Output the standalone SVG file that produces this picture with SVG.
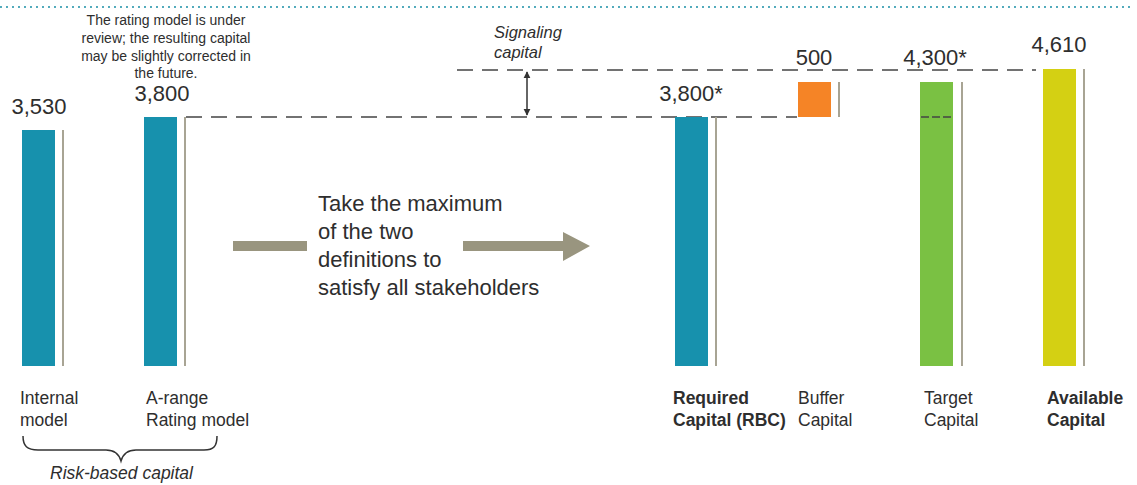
<svg xmlns="http://www.w3.org/2000/svg" width="1137" height="485" viewBox="0 0 1137 485">
<style>
text{font-family:"Liberation Sans",Arial,sans-serif;fill:#2e2e2e}
.val{font-size:22px}
.lbl{font-size:17.5px}
.b{font-weight:bold}
.it{font-style:italic}
.guide{stroke:#a8a494;stroke-width:2;fill:none}
.dash{stroke:#444;stroke-width:1.3;stroke-dasharray:16 9;fill:none}
</style>
<defs>
<marker id="ah" viewBox="0 0 10 10" refX="9" refY="5" markerWidth="7" markerHeight="8" orient="auto-start-reverse" markerUnits="userSpaceOnUse">
<path d="M0,0 L10,5 L0,10 z" fill="#333"/>
</marker>
</defs>
<rect width="1137" height="485" fill="#fff"/>
<line x1="1" y1="7" x2="1134" y2="7" stroke="#1a8fa6" stroke-width="2" stroke-linecap="round" stroke-dasharray="0 6"/>

<g id="note">
<text x="166" y="25" font-size="14" text-anchor="middle">The rating model is under</text>
<text x="166" y="43" font-size="14" text-anchor="middle">review; the resulting capital</text>
<text x="166" y="61" font-size="14" text-anchor="middle">may be slightly corrected in</text>
<text x="166" y="78" font-size="14" text-anchor="middle">the future.</text>
</g>

<g id="connectors">
<line class="dash" x1="457" y1="70" x2="1036" y2="70"/>
<line class="dash" x1="186" y1="117" x2="797" y2="117"/>
<line x1="527" y1="72" x2="527" y2="115" stroke="#333" stroke-width="1.5" marker-start="url(#ah)" marker-end="url(#ah)"/>
<rect x="233" y="241" width="74" height="10" fill="#99957f"/>
<path d="M463,241 H563 V232 L590,246 L563,261 V251 H463 z" fill="#99957f"/>
</g>

<g id="signaling">
<text class="it" x="494" y="38" font-size="16.5">Signaling</text>
<text class="it" x="494" y="58" font-size="16.5">capital</text>
</g>

<g id="internal">
<rect x="22" y="130" width="33" height="236" fill="#1791ad"/>
<line class="guide" x1="63" y1="130" x2="63" y2="366"/>
<text class="val" x="39" y="114" text-anchor="middle">3,530</text>
<text class="lbl" x="20" y="404">Internal</text>
<text class="lbl" x="20" y="426">model</text>
</g>

<g id="rating">
<rect x="144" y="117" width="33" height="249" fill="#1791ad"/>
<line class="guide" x1="185" y1="117" x2="185" y2="366"/>
<text class="val" x="162" y="101" text-anchor="middle">3,800</text>
<text class="lbl" x="146" y="404">A-range</text>
<text class="lbl" x="146" y="426">Rating model</text>
</g>

<g id="riskbased">
<path d="M23,436 C23,446 27,450 38,450 L106,450 C115,450 119,454 121,461 C123,454 127,450 136,450 L204,450 C214,450 217,446 217,436" fill="none" stroke="#333" stroke-width="1.5"/>
<text class="lbl it" x="50" y="479">Risk-based capital</text>
</g>

<g id="maxnote">
<text x="318" y="211" font-size="22">Take the maximum</text>
<text x="318" y="239" font-size="22">of the two</text>
<text x="318" y="267" font-size="22">definitions to</text>
<text x="318" y="295" font-size="22">satisfy all stakeholders</text>
</g>

<g id="rbc">
<rect x="675" y="117" width="33" height="249" fill="#1791ad"/>
<line class="guide" x1="716" y1="117" x2="716" y2="366"/>
<text class="val" x="691" y="101" text-anchor="middle">3,800*</text>
<text class="lbl b" x="673" y="404">Required</text>
<text class="lbl b" x="673" y="426">Capital (RBC)</text>
</g>

<g id="buffer">
<rect x="798" y="82" width="33" height="35" fill="#f58426"/>
<line class="guide" x1="839" y1="82" x2="839" y2="117"/>
<text class="val" x="814" y="65" text-anchor="middle">500</text>
<text class="lbl" x="798" y="404">Buffer</text>
<text class="lbl" x="798" y="426">Capital</text>
</g>

<g id="target">
<rect x="920" y="82" width="33" height="284" fill="#7ac143"/>
<line class="guide" x1="962" y1="82" x2="962" y2="366"/>
<line x1="921" y1="117" x2="953" y2="117" stroke="#444" stroke-width="1.3" stroke-dasharray="8 3"/>
<text class="val" x="935" y="65" text-anchor="middle">4,300*</text>
<text class="lbl" x="924" y="404">Target</text>
<text class="lbl" x="924" y="426">Capital</text>
</g>

<g id="available">
<rect x="1043" y="69" width="33" height="297" fill="#d4d013"/>
<line class="guide" x1="1084" y1="69" x2="1084" y2="366"/>
<text class="val" x="1059" y="52" text-anchor="middle">4,610</text>
<text class="lbl b" x="1047" y="404">Available</text>
<text class="lbl b" x="1047" y="426">Capital</text>
</g>
</svg>
